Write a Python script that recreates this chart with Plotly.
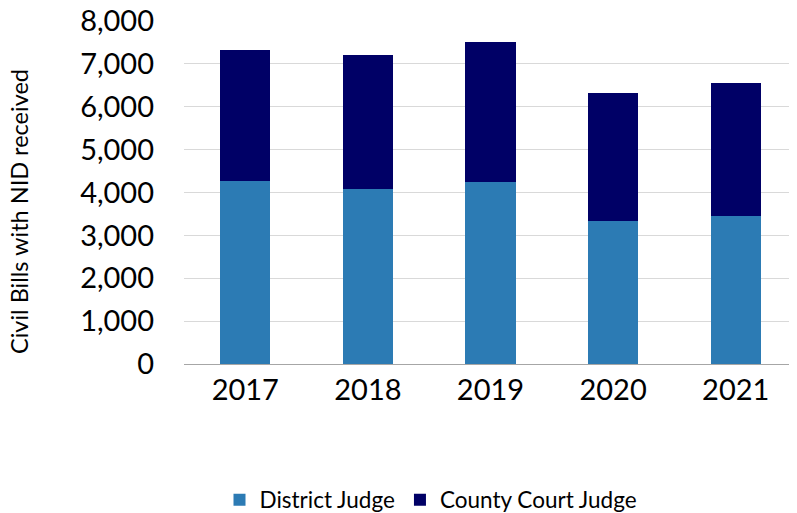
import plotly.graph_objects as go

years = ["2017", "2018", "2019", "2020", "2021"]
district_judge = [4265, 4080, 4240, 3325, 3445]
county_court_judge = [3050, 3130, 3270, 2995, 3105]

FONT = "Lato, 'Open Sans', sans-serif"

# the page body adds an 8px margin, so the figure is drawn 8px smaller
OFF = 8
W, H = 797 - OFF, 513 - OFF
L = 184 - OFF
T = 21 - OFF
PLOT_BOTTOM = 364 - OFF
B = H - PLOT_BOTTOM
PW, PH = W - L, PLOT_BOTTOM - T

fig = go.Figure()

fig.add_trace(go.Bar(
    x=years,
    y=district_judge,
    name="District Judge",
    marker=dict(color="#2C7BB4", line=dict(width=0)),
))

fig.add_trace(go.Bar(
    x=years,
    y=county_court_judge,
    name="County Court Judge",
    marker=dict(color="#000066", line=dict(width=0)),
))

# y axis title placed as an annotation so it sits where the original has it
fig.add_annotation(
    text="Civil Bills with NID received",
    textangle=-90,
    xref="paper", yref="paper",
    x=(19 - OFF - L) / PW, y=(PLOT_BOTTOM - (212 - OFF)) / PH,
    xanchor="center", yanchor="middle",
    showarrow=False,
    font=dict(size=23.5),
)

fig.update_layout(
    barmode="stack",
    bargap=0.59,
    width=W,
    height=H,
    margin=dict(l=L, r=0, t=T, b=B, autoexpand=False),
    paper_bgcolor="white",
    plot_bgcolor="white",
    font=dict(family=FONT, color="#000000"),
    showlegend=True,
    legend=dict(
        orientation="h",
        x=(431 - OFF - L) / PW,
        xanchor="center",
        y=-((500 - OFF) - PLOT_BOTTOM) / PH,
        yanchor="middle",
        font=dict(size=22.5),
        traceorder="normal",
        itemwidth=30,
    ),
)

fig.update_xaxes(
    tickfont=dict(size=29),
    showgrid=False,
    showline=False,
    ticks="",
    ticklabelstandoff=6,
    automargin=False,
)

fig.update_yaxes(
    range=[0, 8000],
    dtick=1000,
    tickformat=",",
    tickfont=dict(size=29),
    ticklabelstandoff=29,
    ticklabeloverflow="allow",
    showgrid=True,
    gridcolor="#D9D9D9",
    gridwidth=1,
    zeroline=True,
    zerolinecolor="#A6A6A6",
    zerolinewidth=1,
    automargin=False,
)

fig.write_html("out.html")
